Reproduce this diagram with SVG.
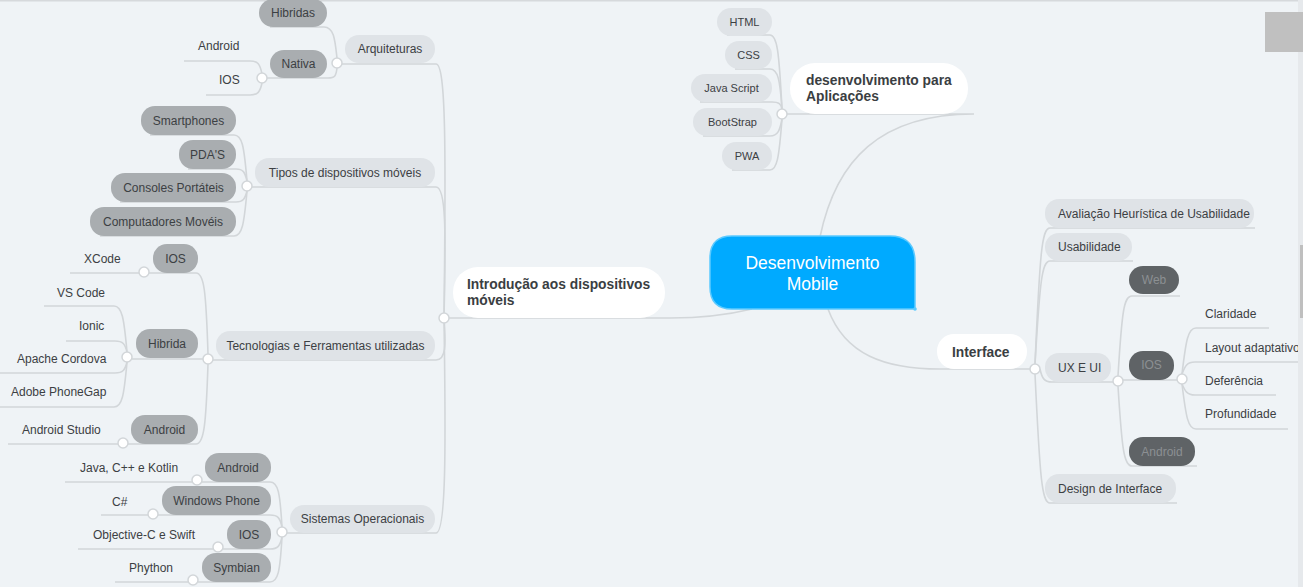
<svg xmlns="http://www.w3.org/2000/svg" width="1303" height="587" viewBox="0 0 1303 587">
<style>
.bg{fill:#eff3f6}
.l2{fill:#dfe3e7}
.l3{fill:#a9adb0}
.l3d{fill:#5f6366}
.wn{fill:#ffffff}
.t{font-family:"Liberation Sans",Arial,sans-serif;font-size:12px;fill:#3c4043}
.s{font-size:11px}
.m{text-anchor:middle}
.b{font-weight:bold;font-size:13.8px;fill:#3a3e42}
.dk{fill:#8c9093}
.ct{font-family:"Liberation Sans",Arial,sans-serif;font-size:17.5px;fill:#ffffff;text-anchor:middle}
#connectors path{fill:none;stroke:#d2d6d9;stroke-width:1.6}
.dot{fill:#ffffff;stroke:#d2d6d9;stroke-width:1.5}
</style>
<rect class="bg" x="0" y="0" width="1303" height="587"/>
<rect x="0" y="0" width="1303" height="1.5" fill="#d6d9dc"/>

<g id="connectors">
<!-- center to left main -->
<path d="M752 309 Q715 318 670 318 L449 318"/>
<path d="M444 318 C446 150 446 64 436 64 L342 64"/>
<path d="M444 318 C446 230 446 187 436 187 L252 187"/>
<path d="M444 318 C446 345 446 360 436 360 L213 360"/>
<path d="M444 318 C446 450 446 533 436 533 L287 533"/>
<!-- Arquiteturas -->
<path d="M337 58 C335 40 334 27 324 27 L270 27"/>
<path d="M337 68 C336 76 335 78 328 78 L267 78"/>
<path d="M262 74 C260 64 258 61 250 61 L184 61"/>
<path d="M262 83 C260 92 258 95 250 95 L206 95"/>
<!-- Tipos -->
<path d="M247 181 C244 145 242 135 234 135 L150 135"/>
<path d="M247 181 C245 172 243 169 236 169 L188 169"/>
<path d="M247 191 C245 199 243 202 236 202 L120 202"/>
<path d="M247 191 C244 225 242 236 234 236 L100 236"/>
<!-- Tecnologias -->
<path d="M208 354 C206 290 204 273 196 273 L149 273"/>
<path d="M203 359 L132 359"/>
<path d="M208 364 C206 425 204 444 196 444 L128 444"/>
<path d="M139 273 L70 273"/>
<path d="M127 352 C124 318 122 306 114 306 L44 306"/>
<path d="M127 352 C125 344 123 341 115 341 L66 341"/>
<path d="M127 362 C125 370 123 373 115 373 L0 373"/>
<path d="M127 362 C124 396 122 407 114 407 L0 407"/>
<path d="M118 444 L8 444"/>
<!-- Sistemas -->
<path d="M282 527 C280 492 278 482 270 482 L202 482"/>
<path d="M282 527 C280 518 278 515 270 515 L158 515"/>
<path d="M282 537 C280 546 278 549 270 549 L223 549"/>
<path d="M282 537 C280 572 278 582 270 582 L198 582"/>
<path d="M192 482 L65 482"/>
<path d="M148 515 L101 515"/>
<path d="M213 549 L78 549"/>
<path d="M188 582 L115 582"/>
<!-- desenvolvimento para Aplicações -->
<path d="M820 237 C836 160 880 114 974 114 L787 114"/>
<path d="M782 109 C779 50 777 35 770 35 L727 35"/>
<path d="M782 109 C780 80 778 69 770 69 L735 69"/>
<path d="M782 109 C781 104 779 102 772 102 L700 102"/>
<path d="M782 119 C780 130 778 136 770 136 L703 136"/>
<path d="M782 119 C779 158 777 170 770 170 L732 170"/>
<!-- Interface -->
<path d="M828 309 C845 355 885 369 940 369 L1030 369"/>
<path d="M1035 364 C1040 250 1042 228 1050 228 L1255 228"/>
<path d="M1035 364 C1040 280 1042 261 1050 261 L1133 261"/>
<path d="M1040 369 C1042 378 1044 382 1052 382 L1113 382"/>
<path d="M1035 374 C1040 480 1042 503 1050 503 L1177 503"/>
<path d="M1118 376 C1122 310 1124 296 1132 296 L1180 296"/>
<path d="M1123 380 L1177 380"/>
<path d="M1118 386 C1122 450 1124 466 1132 466 L1197 466"/>
<path d="M1182 374 C1186 340 1188 328 1196 328 L1269 328"/>
<path d="M1182 374 C1185 366 1187 362 1195 362 L1298 362"/>
<path d="M1182 384 C1185 391 1187 395 1195 395 L1276 395"/>
<path d="M1182 384 C1186 417 1188 429 1196 429 L1288 429"/>
<!-- junction dots -->
<circle class="dot" cx="444" cy="318" r="5"/>
<circle class="dot" cx="337" cy="63" r="5"/>
<circle class="dot" cx="262" cy="78" r="5"/>
<circle class="dot" cx="247" cy="186" r="5"/>
<circle class="dot" cx="208" cy="359" r="5"/>
<circle class="dot" cx="144" cy="272" r="5"/>
<circle class="dot" cx="127" cy="357" r="5"/>
<circle class="dot" cx="123" cy="443" r="5"/>
<circle class="dot" cx="282" cy="532" r="5"/>
<circle class="dot" cx="197" cy="480" r="5"/>
<circle class="dot" cx="153" cy="514" r="5"/>
<circle class="dot" cx="218" cy="547" r="5"/>
<circle class="dot" cx="193" cy="580" r="5"/>
<circle class="dot" cx="782" cy="114" r="5"/>
<circle class="dot" cx="1035" cy="369" r="5"/>
<circle class="dot" cx="1118" cy="381" r="5"/>
<circle class="dot" cx="1182" cy="379" r="5"/>
</g>

<g id="center">
<path d="M732 236 H890 Q915 236 915 262 V309 H732 Q710 309 710 287 V258 Q710 236 732 236 Z" fill="#00aaff" stroke="#5ccaff" stroke-width="1.5"/>
<circle cx="915" cy="309" r="1.8" fill="#5ccaff"/>
<text class="ct" x="812.5" y="269">Desenvolvimento</text>
<text class="ct" x="812.5" y="290">Mobile</text>
</g>

<g id="introducao">
<rect class="wn" x="453" y="267" width="212" height="51" rx="25"/>
<text class="t b" x="467" y="289">Introdução aos dispositivos</text>
<text class="t b" x="467" y="305">móveis</text>
</g>
<g id="arquiteturas"><rect class="l2" x="345" y="35" width="90" height="28" rx="14"/><text class="t m" x="390" y="53">Arquiteturas</text></g>
<g id="hibridas"><rect class="l3" x="259" y="-1" width="68" height="28" rx="14"/><text class="t m" x="293" y="17">Hibridas</text></g>
<g id="nativa"><rect class="l3" x="270" y="50" width="57" height="28" rx="14"/><text class="t m" x="298.5" y="68">Nativa</text></g>
<g id="nativa-android"><text class="t" x="198" y="50">Android</text></g>
<g id="nativa-ios"><text class="t" x="219" y="84">IOS</text></g>

<g id="tipos"><rect class="l2" x="255" y="158" width="180" height="29" rx="14"/><text class="t m" x="345" y="177">Tipos de dispositivos móveis</text></g>
<g id="smartphones"><rect class="l3" x="141" y="106" width="95" height="29" rx="14"/><text class="t m" x="188.5" y="125">Smartphones</text></g>
<g id="pdas"><rect class="l3" x="179" y="140" width="57" height="29" rx="14"/><text class="t m" x="207.5" y="159">PDA'S</text></g>
<g id="consoles"><rect class="l3" x="111" y="173" width="125" height="29" rx="14"/><text class="t m" x="173.5" y="192">Consoles Portáteis</text></g>
<g id="computadores"><rect class="l3" x="90" y="207" width="146" height="29" rx="14"/><text class="t m" x="163" y="226">Computadores Movéis</text></g>

<g id="tecnologias"><rect class="l2" x="216" y="331" width="219" height="29" rx="14"/><text class="t m" x="325.5" y="350">Tecnologias e Ferramentas utilizadas</text></g>
<g id="tec-ios"><rect class="l3" x="153" y="244" width="45" height="29" rx="14"/><text class="t m" x="175.5" y="263">IOS</text></g>
<g id="xcode"><text class="t" x="84" y="263">XCode</text></g>
<g id="tec-hibrida"><rect class="l3" x="136" y="329" width="62" height="29" rx="14"/><text class="t m" x="167" y="348">Hibrida</text></g>
<g id="vscode"><text class="t" x="57" y="297">VS Code</text></g>
<g id="ionic"><text class="t" x="79" y="330">Ionic</text></g>
<g id="cordova"><text class="t" x="17" y="363">Apache Cordova</text></g>
<g id="phonegap"><text class="t" x="11" y="396">Adobe PhoneGap</text></g>
<g id="tec-android"><rect class="l3" x="131" y="415" width="67" height="29" rx="14"/><text class="t m" x="164.5" y="434">Android</text></g>
<g id="android-studio"><text class="t" x="22" y="434">Android Studio</text></g>

<g id="sistemas"><rect class="l2" x="290" y="505" width="145" height="28" rx="14"/><text class="t m" x="362.5" y="523">Sistemas Operacionais</text></g>
<g id="so-android"><rect class="l3" x="205" y="453" width="66" height="29" rx="14"/><text class="t m" x="238" y="472">Android</text></g>
<g id="java"><text class="t" x="80" y="472">Java, C++ e Kotlin</text></g>
<g id="so-windows"><rect class="l3" x="162" y="486" width="109" height="29" rx="14"/><text class="t m" x="216.5" y="505">Windows Phone</text></g>
<g id="csharp"><text class="t" x="112" y="506">C#</text></g>
<g id="so-ios"><rect class="l3" x="227" y="520" width="44" height="29" rx="14"/><text class="t m" x="249" y="539">IOS</text></g>
<g id="objc"><text class="t" x="93" y="539">Objective-C e Swift</text></g>
<g id="so-symbian"><rect class="l3" x="202" y="553" width="69" height="29" rx="14"/><text class="t m" x="236.5" y="572">Symbian</text></g>
<g id="phython"><text class="t" x="129" y="572">Phython</text></g>

<g id="aplicacoes">
<rect class="wn" x="790" y="63" width="178" height="51" rx="25"/>
<text class="t b" x="806" y="85">desenvolvimento para</text>
<text class="t b" x="806" y="101">Aplicações</text>
</g>
<g id="html"><rect class="l2" x="717" y="8" width="55" height="28" rx="14"/><text class="t s m" x="744.5" y="26">HTML</text></g>
<g id="css"><rect class="l2" x="725" y="41" width="47" height="28" rx="14"/><text class="t s m" x="748.5" y="59">CSS</text></g>
<g id="javascript"><rect class="l2" x="691" y="74" width="81" height="28" rx="14"/><text class="t s m" x="731.5" y="92">Java Script</text></g>
<g id="bootstrap"><rect class="l2" x="693" y="108" width="79" height="28" rx="14"/><text class="t s m" x="732.5" y="126">BootStrap</text></g>
<g id="pwa"><rect class="l2" x="722" y="142" width="50" height="28" rx="14"/><text class="t s m" x="747" y="160">PWA</text></g>

<g id="interface">
<rect class="wn" x="937" y="334" width="90" height="35" rx="17"/>
<text class="t b" x="952" y="357">Interface</text>
</g>
<g id="avaliacao"><rect class="l2" x="1045" y="199" width="209" height="29" rx="14"/><text class="t" x="1058" y="218">Avaliação Heurística de Usabilidade</text></g>
<g id="usabilidade"><rect class="l2" x="1045" y="233" width="87" height="28" rx="14"/><text class="t" x="1058" y="251">Usabilidade</text></g>
<g id="uxui"><rect class="l2" x="1045" y="353" width="66" height="29" rx="14"/><text class="t" x="1058" y="372">UX E UI</text></g>
<g id="design"><rect class="l2" x="1045" y="474" width="131" height="29" rx="14"/><text class="t" x="1058" y="493">Design de Interface</text></g>
<g id="web"><rect class="l3d" x="1129" y="266" width="50" height="28" rx="14"/><text class="t m dk" x="1154" y="284">Web</text></g>
<g id="ux-ios"><rect class="l3d" x="1129" y="351" width="45" height="29" rx="14"/><text class="t m dk" x="1151.5" y="369">IOS</text></g>
<g id="ux-android"><rect class="l3d" x="1129" y="437" width="66" height="29" rx="14"/><text class="t m dk" x="1162" y="456">Android</text></g>
<g id="claridade"><text class="t" x="1205" y="318">Claridade</text></g>
<g id="layout"><text class="t" x="1205" y="352">Layout adaptativo</text></g>
<g id="deferencia"><text class="t" x="1205" y="385">Deferência</text></g>
<g id="profundidade"><text class="t" x="1205" y="418">Profundidade</text></g>

<rect x="1298" y="0" width="5" height="587" fill="#e6e9ec"/>
<rect x="1300" y="245" width="3" height="73" fill="#bfbfbf"/>
<rect x="1265" y="12" width="38" height="40" fill="#c0c0c0"/>
</svg>
